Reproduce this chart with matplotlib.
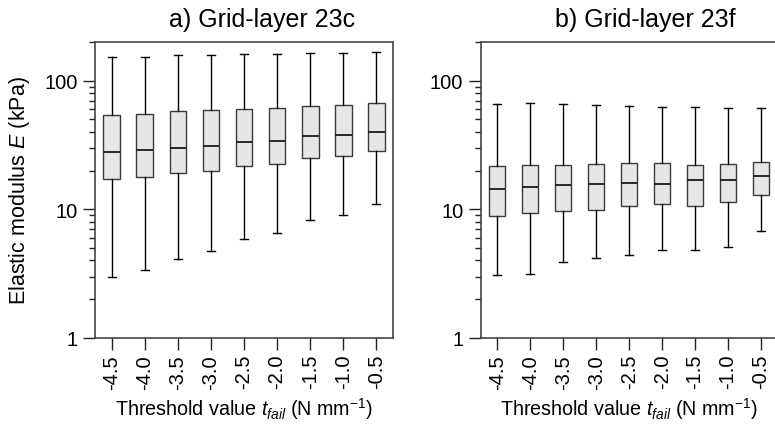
import numpy as np
import matplotlib
matplotlib.use("Agg")
import matplotlib.pyplot as plt
from matplotlib.ticker import LogLocator, NullFormatter, FixedLocator, FixedFormatter

plt.rcParams["font.family"] = ["Liberation Sans", "DejaVu Sans"]
plt.rcParams["mathtext.fontset"] = "custom"
plt.rcParams["mathtext.rm"] = "Liberation Sans"
plt.rcParams["mathtext.it"] = "Liberation Sans:italic"

thresholds = ["-4.5", "-4.0", "-3.5", "-3.0", "-2.5", "-2.0", "-1.5", "-1.0", "-0.5"]

# grid-layer 23c
c_low = [2.96, 3.38, 4.09, 4.78, 5.92, 6.51, 8.21, 8.98, 11.0]
c_q1 = [17.1, 17.7, 19.3, 20.0, 21.7, 22.6, 25.1, 26.1, 28.3]
c_med = [28.1, 28.8, 30.1, 30.9, 33.2, 34.0, 36.9, 38.0, 40.2]
c_q3 = [54.5, 55.4, 57.8, 58.8, 60.6, 61.0, 64.0, 64.3, 66.7]
c_high = [153.6, 154, 158, 159, 161, 161, 164, 165, 168]

# grid-layer 23f
f_low = [3.10, 3.12, 3.87, 4.16, 4.39, 4.86, 4.86, 5.09, 6.79]
f_q1 = [8.83, 9.42, 9.64, 9.82, 10.7, 10.9, 10.7, 11.3, 12.9]
f_med = [14.4, 14.8, 15.4, 15.6, 15.9, 15.8, 16.8, 17.0, 18.3]
f_q3 = [21.7, 22.0, 22.1, 22.4, 22.8, 22.8, 22.3, 22.4, 23.2]
f_high = [66.3, 67.4, 65.9, 65.1, 63.1, 62.8, 62.1, 61.3, 61.0]


def make_stats(low, q1, med, q3, high):
    return [
        dict(whislo=a, q1=b, med=c, q3=d, whishi=e, fliers=[])
        for a, b, c, d, e in zip(low, q1, med, q3, high)
    ]


def draw_panel(ax, stats, title, title_x):
    pos = np.arange(1, len(stats) + 1)
    ax.bxp(
        stats,
        positions=pos,
        widths=0.5,
        capwidths=0.24,
        patch_artist=True,
        showfliers=False,
        boxprops=dict(facecolor="#e6e6e6", edgecolor="#3a3a3a", linewidth=1.0),
        medianprops=dict(color="#1a1a1a", linewidth=1.3),
        whiskerprops=dict(color="black", linewidth=1.0),
        capprops=dict(color="black", linewidth=1.0),
    )
    ax.set_yscale("log")
    ax.set_ylim(1, 201)
    ax.set_xlim(0.5, 9.5)
    ax.yaxis.set_major_locator(FixedLocator([1, 10, 100]))
    ax.yaxis.set_major_formatter(FixedFormatter(["1", "10", "100"]))
    ax.yaxis.set_minor_locator(LogLocator(base=10, subs=np.arange(2, 10)))
    ax.yaxis.set_minor_formatter(NullFormatter())
    ax.set_xticks(pos)
    ax.set_xticklabels(thresholds, rotation=90)
    ax.tick_params(axis="both", which="major", direction="out", length=8.5,
                   width=1.0, labelsize=14.5, color="#222222")
    ax.tick_params(axis="x", pad=3)
    ax.tick_params(axis="y", pad=4)
    ax.tick_params(axis="y", which="minor", direction="out", length=4,
                   width=1.0, color="#222222")
    for s in ax.spines.values():
        s.set_color("#444444")
        s.set_linewidth(1.2)
    ax.set_xlabel("Threshold value $t_{fail}$ (N mm$^{\\mathregular{-1}}$)",
                  fontsize=14.2, labelpad=4.5)
    ax.set_title(title, fontsize=18, x=title_x, pad=11)


fig = plt.figure(figsize=(7.75, 4.27), dpi=100)
ax1 = fig.add_axes([0.1226, 0.2063, 0.3845, 0.6937])
ax2 = fig.add_axes([0.6203, 0.2063, 0.3830, 0.6937])

draw_panel(ax1, make_stats(c_low, c_q1, c_med, c_q3, c_high), "a) Grid-layer 23c", 0.559)
draw_panel(ax2, make_stats(f_low, f_q1, f_med, f_q3, f_high), "b) Grid-layer 23f", 0.553)
ax1.set_ylabel("Elastic modulus $E$ (kPa)", fontsize=15.5, labelpad=9)

fig.savefig("out.png", dpi=100)
